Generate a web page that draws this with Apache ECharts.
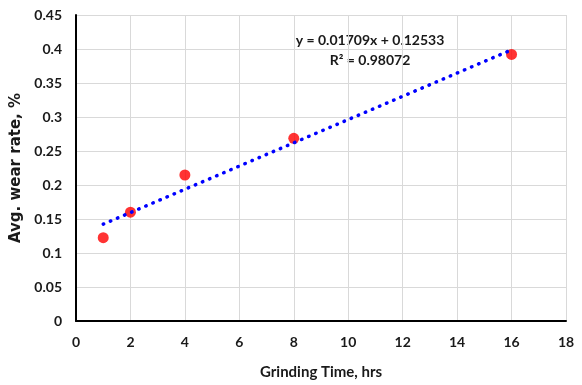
<!DOCTYPE html>
<html>
<head>
<meta charset="utf-8">
<script src="https://cdn.jsdelivr.net/npm/echarts@6/dist/echarts.min.js"></script>
<style>html,body{margin:0;padding:0;background:#fff}#c{width:582px;height:385px}</style>
</head>
<body>
<div id="c"></div>
<script>
var timeHrs = [1, 2, 4, 8, 16];
var wearRate = [0.1225, 0.160, 0.2147, 0.2687, 0.392];
var trendX = [1, 16];
var trendY = [0.1424, 0.3988];
var eqLine1 = 'y = 0.01709x + 0.12533';
var eqLine2 = 'R\u00B2 = 0.98072';
var xTitle = 'Grinding Time, hrs';
var yTitle = 'Avg. wear rate, %';

var font = 'Lato, "Open Sans", sans-serif';
var chart = echarts.init(document.getElementById('c'));
chart.setOption({
  animation: false,
  backgroundColor: '#fff',
  grid: {left: 76, right: 16, top: 15, bottom: 64},
  xAxis: {
    type: 'value', min: 0, max: 18, interval: 2,
    name: xTitle, nameLocation: 'middle', nameGap: 44,
    nameTextStyle: {fontFamily: font, fontWeight: 'bold', fontSize: 15, color: '#1a1a1a'},
    axisLine: {show: true, lineStyle: {color: '#000', width: 2}},
    axisTick: {show: false},
    axisLabel: {fontFamily: font, fontWeight: 'bold', fontSize: 14, color: '#1a1a1a', margin: 14},
    splitLine: {show: true, lineStyle: {color: '#d9d9d9', width: 1}}
  },
  yAxis: {
    type: 'value', min: 0, max: 0.45, interval: 0.05,
    name: yTitle, nameLocation: 'middle', nameGap: 48,
    nameTextStyle: {fontFamily: '"DejaVu Sans", sans-serif', fontWeight: 'bold', fontSize: 15, color: '#1a1a1a'},
    axisLine: {show: true, lineStyle: {color: '#000', width: 2}},
    axisTick: {show: false},
    axisLabel: {fontFamily: font, fontWeight: 'bold', fontSize: 14, color: '#1a1a1a', margin: 14,
      formatter: function (v) { return String(Math.round(v * 100) / 100); }},
    splitLine: {show: true, lineStyle: {color: '#d9d9d9', width: 1}}
  },
  series: [
    {
      type: 'line',
      data: trendX.map(function (x, i) { return [x, trendY[i]]; }),
      symbol: 'none',
      lineStyle: {color: '#0000ff', width: 3.5, type: [0.5, 7.2], cap: 'round'},
      z: 3
    },
    {
      type: 'scatter',
      data: timeHrs.map(function (x, i) { return [x, wearRate[i]]; }),
      symbol: 'circle', symbolSize: 11,
      itemStyle: {color: '#ff0000'},
      z: 2
    }
  ],
  graphic: [
    {type: 'text', x: 370, y: 40, style: {text: eqLine1, align: 'center', verticalAlign: 'middle', fontFamily: font, fontWeight: 'bold', fontSize: 14, fill: '#1a1a1a'}},
    {type: 'text', x: 370, y: 60, style: {text: eqLine2, align: 'center', verticalAlign: 'middle', fontFamily: font, fontWeight: 'bold', fontSize: 14, fill: '#1a1a1a'}}
  ]
});
</script>
</body>
</html>
